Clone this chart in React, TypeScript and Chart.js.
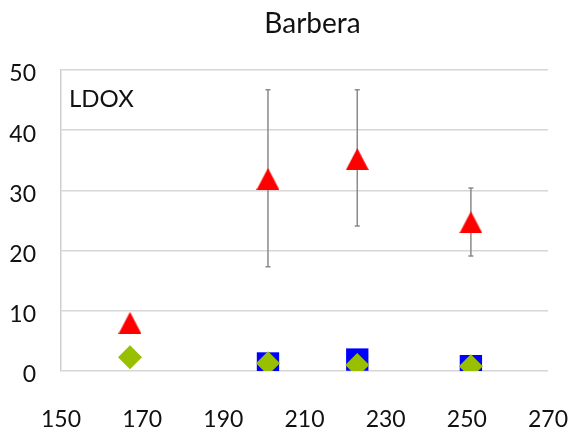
import React, { useEffect, useRef } from "react";
import { Chart, registerables } from "chart.js";
Chart.register(...registerables);

const TITLE = "Barbera";
const PANEL_LABEL = "LDOX";
const X_MIN = 150;
const X_MAX = 270;
const X_STEP = 20;
const Y_MIN = 0;
const Y_MAX = 50;
const Y_STEP = 10;

const redX = [167, 201, 223, 251];
const redY = [8.0, 31.9, 35.2, 24.7];
const redErrHigh: (number | null)[] = [null, 46.7, 46.7, 30.4];
const redErrLow: (number | null)[] = [null, 17.3, 24.1, 19.1];

const blueX = [201, 223, 251];
const blueY = [1.25, 1.9, 0.8];

const greenX = [167, 201, 223, 251];
const greenY = [2.3, 1.3, 1.0, 0.8];

const FONT = "Lato, 'Open Sans', sans-serif";

function makeTriangle(w: number, h: number, color: string) {
  const c = document.createElement("canvas");
  c.width = w;
  c.height = h;
  const ctx = c.getContext("2d")!;
  ctx.fillStyle = color;
  ctx.beginPath();
  ctx.moveTo(w / 2, 0);
  ctx.lineTo(w, h);
  ctx.lineTo(0, h);
  ctx.closePath();
  ctx.fill();
  return c;
}

export default function App() {
  const ref = useRef<HTMLCanvasElement>(null);

  useEffect(() => {
    document.body.style.margin = "0";
    const canvas = ref.current!;
    const tri = makeTriangle(23, 22, "#ff0000");

    const overlay = {
      id: "overlay",
      beforeDatasetsDraw(chart: any) {
        const { ctx, scales } = chart;
        const x = scales.x;
        const y = scales.y;
        ctx.save();
        ctx.strokeStyle = "#8a8a8a";
        ctx.lineWidth = 1.5;
        redX.forEach((xv, i) => {
          const hi = redErrHigh[i];
          const lo = redErrLow[i];
          if (hi == null || lo == null) return;
          const px = x.getPixelForValue(xv);
          const pt = y.getPixelForValue(hi);
          const pb = y.getPixelForValue(lo);
          ctx.beginPath();
          ctx.moveTo(px, pt);
          ctx.lineTo(px, pb);
          ctx.moveTo(px - 2.5, pt);
          ctx.lineTo(px + 2.5, pt);
          ctx.moveTo(px - 2.5, pb);
          ctx.lineTo(px + 2.5, pb);
          ctx.stroke();
        });
        ctx.restore();
      },
      afterDraw(chart: any) {
        const { ctx, chartArea } = chart;
        ctx.save();
        ctx.fillStyle = "#111";
        ctx.font = `28px ${FONT}`;
        ctx.textAlign = "center";
        ctx.textBaseline = "alphabetic";
        ctx.fillText(TITLE, (chartArea.left + chartArea.right) / 2 + 8, 33);
        ctx.font = `24px ${FONT}`;
        ctx.textAlign = "left";
        ctx.fillText(PANEL_LABEL, chartArea.left + 8, chartArea.top + 37);
        ctx.restore();
      },
    };

    const chart = new Chart(canvas, {
      type: "scatter",
      data: {
        datasets: [
          {
            label: "green",
            data: greenX.map((x, i) => ({ x, y: greenY[i] })),
            pointStyle: "rectRot",
            pointRadius: 12,
            pointHoverRadius: 12,
            backgroundColor: "#99c000",
            borderColor: "#99c000",
            borderWidth: 0,
            order: 0,
          },
          {
            label: "blue",
            data: blueX.map((x, i) => ({ x, y: blueY[i] })),
            pointStyle: "rect",
            pointRadius: 15.8,
            pointHoverRadius: 15.8,
            backgroundColor: "#0000ff",
            borderColor: "#0000ff",
            borderWidth: 0,
            order: 1,
          },
          {
            label: "red",
            data: redX.map((x, i) => ({ x, y: redY[i] })),
            pointStyle: tri as any,
            pointRadius: 12,
            backgroundColor: "#ff0000",
            borderColor: "#ff0000",
            borderWidth: 0,
            order: 2,
          },
        ],
      },
      options: {
        animation: false,
        responsive: false,
        maintainAspectRatio: false,
        layout: { padding: { top: 70, right: 26, left: 0, bottom: 0 } },
        plugins: {
          legend: { display: false },
          title: { display: false },
          tooltip: { enabled: false },
        },
        scales: {
          x: {
            type: "linear",
            min: X_MIN,
            max: X_MAX,
            ticks: {
              stepSize: X_STEP,
              padding: 3,
              color: "#111",
              font: { family: FONT, size: 23 },
              maxRotation: 0,
            },
            grid: { display: false, drawTicks: true, tickLength: 32 },
            border: { display: false },
            afterFit(scale: any) {
              scale.height = 70;
            },
          },
          y: {
            type: "linear",
            min: Y_MIN,
            max: Y_MAX,
            ticks: {
              stepSize: Y_STEP,
              padding: 25,
              labelOffset: 4,
              color: "#111",
              font: { family: FONT, size: 23 },
            },
            grid: { color: "#d6d6d6", lineWidth: 1.5, drawTicks: false },
            border: { display: true, color: "#cfcfcf", width: 1.5 },
            afterFit(scale: any) {
              scale.width = 61;
            },
          },
        },
      },
      plugins: [overlay],
    });

    return () => chart.destroy();
  }, []);

  return (
    <div style={{ width: 574, height: 441, background: "#fff" }}>
      <canvas ref={ref} width={574} height={441} style={{ display: "block" }} />
    </div>
  );
}
